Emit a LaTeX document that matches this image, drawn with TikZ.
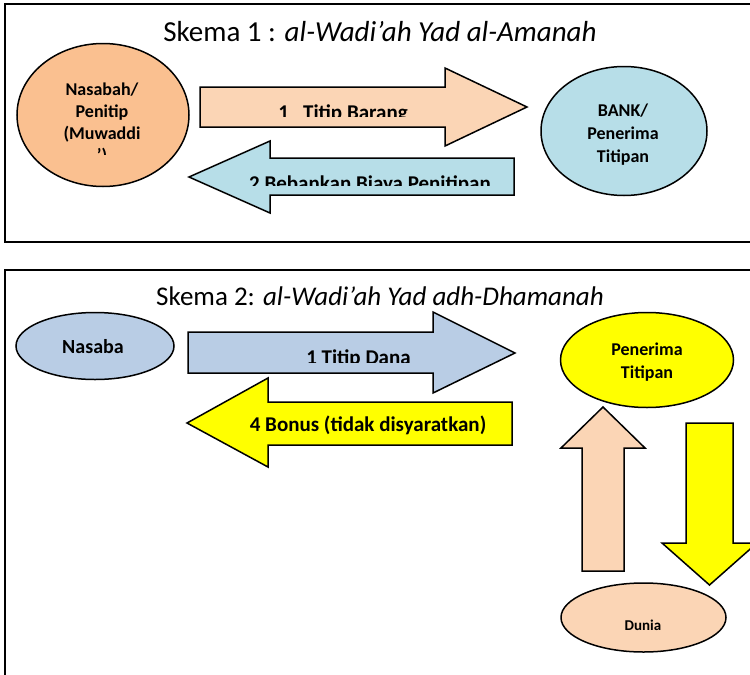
\documentclass[tikz,border=0pt]{standalone}
\usepackage{fontspec}
\setmainfont{Carlito}
\usetikzlibrary{shapes.geometric}
\definecolor{orangeA}{HTML}{FAC090}
\definecolor{peach}{HTML}{FBD5B5}
\definecolor{lblue}{HTML}{B7DEE8}
\definecolor{sblue}{HTML}{B9CDE5}
\definecolor{yel}{HTML}{FFFF00}
\newcommand\stackl[1]{\begin{tabular}[t]{@{}c@{}}#1\end{tabular}}
\begin{document}
\begin{tikzpicture}[x=1pt,y=-1pt,
  frame/.style={draw=black, line width=1.8pt},
  blk/.style={draw=black, line width=1.5pt, line join=miter},
  oval/.style={ellipse, draw=black, line width=1.5pt, inner sep=0pt},
  ttl/.style={font=\fontsize{29}{35}\selectfont, anchor=base, inner sep=0pt},
  lbl/.style={font=\fontsize{18}{23}\selectfont\bfseries, anchor=base, inner sep=0pt},
  arrtxt/.style={font=\fontsize{21}{25}\selectfont\bfseries, anchor=base, inner sep=0pt}]
\useasboundingbox (0,0) rectangle (750,675);
\clip (0,0) rectangle (750,675);
\fill[white] (0,0) rectangle (750,675);

% frames
\draw[frame] (5,4) rectangle (770,242);
\draw[frame] (5,270) rectangle (770,700);

% titles
\node[ttl] (title1) at (380,41) {Skema 1 : \textit{al-Wadi’ah Yad al-Amanah}};
\node[ttl, font=\fontsize{27}{33}\selectfont] (title2) at (380,305) {Skema 2: \textit{al-Wadi’ah Yad adh-Dhamanah}};

% ---------- Skema 1 ----------
\node[oval, fill=orangeA, minimum width=172pt, minimum height=143pt] (nasabah) at (103,115) {};
\node[oval, fill=lblue, minimum width=166pt, minimum height=129pt] (bank) at (624,131) {};

\filldraw[blk, fill=peach] (200,87) -- (445,87) -- (445,68) -- (527,107) -- (445,146) -- (445,127) -- (200,127) -- cycle;
\filldraw[blk, fill=lblue] (514,158) -- (270,158) -- (270,141) -- (189,177) -- (270,213) -- (270,195) -- (514,195) -- cycle;

\begin{scope}
  \clip (20,60) rectangle (190,154);
  \node[lbl, font=\fontsize{18}{22}\selectfont\bfseries] (nasabahT) at (102,95) {\stackl{Nasabah/\\Penitip\\(Muwaddi\\’)}};
\end{scope}
\node[lbl] (bankT) at (623,116) {\stackl{BANK/\\Penerima\\Titipan}};

\begin{scope}
  \clip (205,90) rectangle (520,116);
  \node[arrtxt] (t1) at (343,119) {1\ \ \ Titip Barang};
\end{scope}
\begin{scope}
  \clip (200,160) rectangle (512,185);
  \node[arrtxt] (t2) at (370,190) {2 Bebankan Biaya Penitipan};
\end{scope}

% ---------- Skema 2 ----------
\node[oval, fill=sblue, minimum width=158pt, minimum height=67pt] (nasaba) at (95,346) {};
\node[oval, fill=yel, minimum width=173pt, minimum height=95pt] (penerima) at (647,360) {};
\node[oval, fill=peach, minimum width=165pt, minimum height=69pt] (dunia) at (643.5,617.5) {};

\filldraw[blk, fill=sblue] (188,332) -- (433,332) -- (433,312) -- (515,353) -- (433,393) -- (433,373) -- (188,373) -- cycle;
\filldraw[blk, fill=yel] (512,402) -- (268,402) -- (268,378) -- (187,423) -- (268,467) -- (268,445) -- (512,445) -- cycle;
\filldraw[blk, fill=peach] (582,571) -- (582,448) -- (561,448) -- (603,407) -- (645,448) -- (624,448) -- (624,571) -- cycle;
\filldraw[blk, fill=yel] (686,423) -- (733,423) -- (733,543) -- (757,543) -- (709.5,585) -- (662,543) -- (686,543) -- cycle;

\node[lbl, font=\fontsize{20}{24}\selectfont\bfseries] (nasabaT) at (93,353) {Nasaba};
\node[lbl] (penT) at (647,355) {\stackl{Penerima\\Titipan}};
\node[lbl, font=\fontsize{15}{18}\selectfont\bfseries] (duniaT) at (643,630) {Dunia};

\begin{scope}
  \clip (195,335) rectangle (510,362);
  \node[arrtxt] (t3) at (358.5,364) {1 Titip Dana};
\end{scope}
\node[arrtxt] (t4) at (368,431) {4 Bonus (tidak disyaratkan)};
\end{tikzpicture}
\end{document}
